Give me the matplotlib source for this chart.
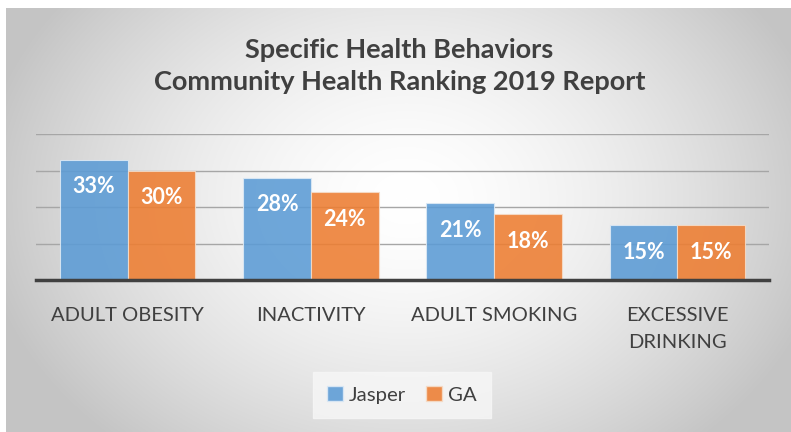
import numpy as np
import matplotlib
matplotlib.use('Agg')
import matplotlib.pyplot as plt
from matplotlib.patches import Patch

plt.rcParams['font.family'] = ['Lato', 'DejaVu Sans']

categories = ['ADULT OBESITY', 'INACTIVITY', 'ADULT SMOKING', 'EXCESSIVE\nDRINKING']
jasper = [0.33, 0.28, 0.21, 0.15]
ga = [0.30, 0.24, 0.18, 0.15]
series_names = ['Jasper', 'GA']
blue = '#5B9BD5'
orange = '#ED7D31'
txt = '#404040'

fig = plt.figure(figsize=(7.91, 4.32), dpi=100)
fig.patch.set_facecolor('white')

# radial gradient background
bg = fig.add_axes([6/791, 0, 1 - 6/791, 1 - 8/432])
bg.set_axis_off()
h, w = 424, 785
yy, xx = np.mgrid[0:h, 0:w]
cx, cy = 400, 190
r = np.sqrt(((xx - cx) / 430.0) ** 2 + ((yy - cy) / 330.0) ** 2)
r = np.clip(r, 0, 1)
shade = 1.0 - 0.23 * r ** 1.6
img = np.dstack([shade, shade, shade])
bg.imshow(img, aspect='auto', extent=[0, 1, 0, 1], interpolation='bilinear')
bg.set_xlim(0, 1)
bg.set_ylim(0, 1)

ax = fig.add_axes([36/791, 1 - 280/432, (769 - 36)/791, (280 - 134)/432])
ax.patch.set_alpha(0)

x = np.arange(len(categories))
bw = 0.37
b1 = ax.bar(x - bw/2, jasper, bw, color=blue, alpha=0.88, edgecolor='#dce9f5', linewidth=0.8, zorder=3)
b2 = ax.bar(x + bw/2, ga, bw, color=orange, alpha=0.88, edgecolor='#f5dcc8', linewidth=0.8, zorder=3)

for bars, vals in ((b1, jasper), (b2, ga)):
    for b, v in zip(bars, vals):
        ax.text(b.get_x() + b.get_width()/2, v - 0.074, '%d%%' % round(v*100),
                ha='center', va='center', color='white', fontsize=15.5,
                fontweight='bold', zorder=5)

ax.set_xlim(-0.5, 3.5)
ax.set_ylim(0, 0.4)
ax.set_yticks([0.1, 0.2, 0.3, 0.4])
ax.yaxis.grid(True, color='#a6a6a6', linewidth=1.0, zorder=1)
ax.tick_params(axis='y', left=False, labelleft=False)
ax.tick_params(axis='x', bottom=False, labelsize=14.5, labelcolor=txt, pad=16)
ax.set_xticks(x)
ax.set_xticklabels(categories, linespacing=1.7)
for s in ['top', 'right', 'left']:
    ax.spines[s].set_visible(False)
ax.spines['bottom'].set_color('#404040')
ax.spines['bottom'].set_linewidth(2.5)
ax.spines['bottom'].set_zorder(4)

fig.text(0.505, 1 - 66/432, 'Specific Health Behaviors\nCommunity Health Ranking 2019 Report',
         ha='center', va='center', fontsize=19.5, fontweight='bold', color=txt, linespacing=1.4)

handles = [Patch(facecolor=blue, alpha=0.88, edgecolor='#dce9f5'),
           Patch(facecolor=orange, alpha=0.88, edgecolor='#f5dcc8')]
leg = fig.legend(handles, series_names, loc='center', bbox_to_anchor=(402/791, 1 - 395/432),
                 ncol=2, frameon=True, fontsize=14.7, handlelength=0.75, handleheight=0.75,
                 handletextpad=0.3, columnspacing=1.0, borderpad=0.7, fancybox=False)
leg.get_frame().set_facecolor('#f7f7f7')
leg.get_frame().set_edgecolor('#f7f7f7')
for t in leg.get_texts():
    t.set_color(txt)

fig.savefig('out.png', dpi=100)
